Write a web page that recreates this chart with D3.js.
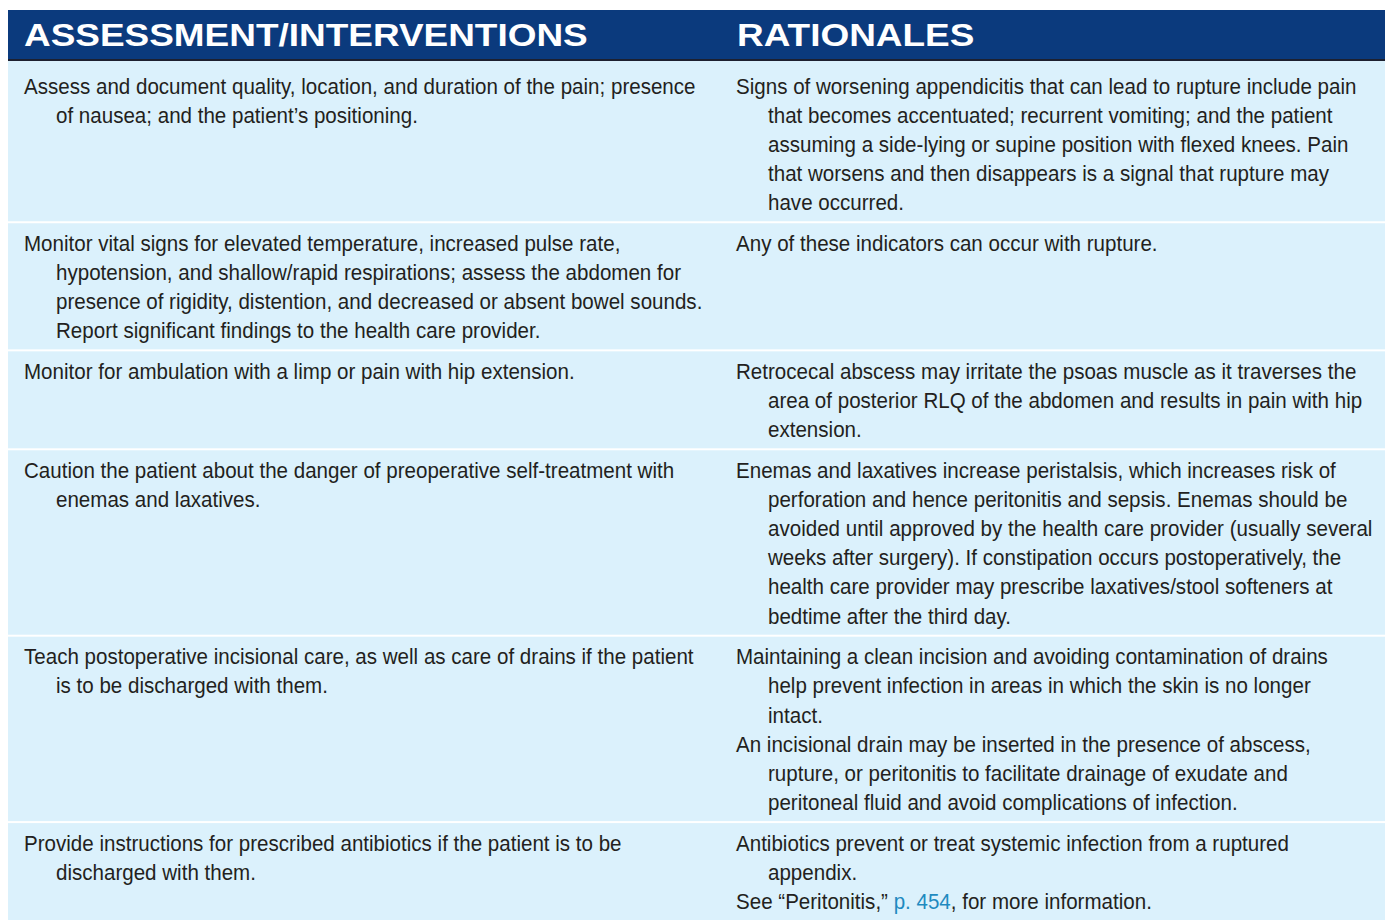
<!DOCTYPE html>
<html>
<head>
<meta charset="utf-8">
<script src="https://cdn.jsdelivr.net/npm/d3@7/dist/d3.min.js"></script>
<style>
  html, body { margin: 0; padding: 0; background: #ffffff; }
  svg { display: block; }
</style>
</head>
<body>
<div id="chart"></div>
<script>
// ---- Data ----
const columns = ["ASSESSMENT/INTERVENTIONS", "RATIONALES"];

const interventions = [
  [["Assess and document quality, location, and duration of the pain; presence",
    "of nausea; and the patient’s positioning."]],
  [["Monitor vital signs for elevated temperature, increased pulse rate,",
    "hypotension, and shallow/rapid respirations; assess the abdomen for",
    "presence of rigidity, distention, and decreased or absent bowel sounds.",
    "Report significant findings to the health care provider."]],
  [["Monitor for ambulation with a limp or pain with hip extension."]],
  [["Caution the patient about the danger of preoperative self-treatment with",
    "enemas and laxatives."]],
  [["Teach postoperative incisional care, as well as care of drains if the patient",
    "is to be discharged with them."]],
  [["Provide instructions for prescribed antibiotics if the patient is to be",
    "discharged with them."]]
];

const rationales = [
  [["Signs of worsening appendicitis that can lead to rupture include pain",
    "that becomes accentuated; recurrent vomiting; and the patient",
    "assuming a side-lying or supine position with flexed knees. Pain",
    "that worsens and then disappears is a signal that rupture may",
    "have occurred."]],
  [["Any of these indicators can occur with rupture."]],
  [["Retrocecal abscess may irritate the psoas muscle as it traverses the",
    "area of posterior RLQ of the abdomen and results in pain with hip",
    "extension."]],
  [["Enemas and laxatives increase peristalsis, which increases risk of",
    "perforation and hence peritonitis and sepsis. Enemas should be",
    "avoided until approved by the health care provider (usually several",
    "weeks after surgery). If constipation occurs postoperatively, the",
    "health care provider may prescribe laxatives/stool softeners at",
    "bedtime after the third day."]],
  [["Maintaining a clean incision and avoiding contamination of drains",
    "help prevent infection in areas in which the skin is no longer",
    "intact."],
   ["An incisional drain may be inserted in the presence of abscess,",
    "rupture, or peritonitis to facilitate drainage of exudate and",
    "peritoneal fluid and avoid complications of infection."]],
  [["Antibiotics prevent or treat systemic infection from a ruptured",
    "appendix."],
   ["See “Peritonitis,” {p. 454}, for more information."]]
];

// ---- Layout ----
const W = 1385, H = 920;
const tableLeft = 8, tableRight = 1385;
const headerTop = 10, headerBottom = 59, headerRule = 2;
const lineH = 29.15, rowPad = 9.5, sepH = 2, firstExtra = 5;
const baseOff = 27.5;
const hdrSx = 1.155;  // header horizontal stretch
const bodySx = 0.935; // body horizontal squeeze (condensed look)

const colX = d3.scaleOrdinal().domain(columns).range([24, 736]);
const indent = 32;

const svg = d3.select("#chart").append("svg")
  .attr("width", W).attr("height", H);

const rows = interventions.map((iv, i) => {
  const ra = rationales[i];
  const nL = d3.sum(iv, p => p.length);
  const nR = d3.sum(ra, p => p.length);
  return { iv, ra, n: Math.max(nL, nR) };
});
let y = headerBottom + headerRule;
rows.forEach((r, i) => {
  r.top = y;
  r.extra = i === 0 ? firstExtra : 0;
  r.h = r.extra + rowPad + lineH * r.n;
  y += r.h + sepH;
});

// header
svg.append("rect")
  .attr("x", tableLeft).attr("y", headerTop)
  .attr("width", tableRight - tableLeft).attr("height", headerBottom - headerTop)
  .attr("fill", "#0b3a7d");
svg.append("rect")
  .attr("x", tableLeft).attr("y", headerBottom)
  .attr("width", tableRight - tableLeft).attr("height", headerRule)
  .attr("fill", "#1d2030");

svg.selectAll("text.hdr").data(columns).enter().append("text")
  .attr("class", "hdr")
  .attr("transform", (d, i) => `translate(${colX(d) + (i ? 1 : 0)},${46}) scale(${hdrSx},1)`)
  .attr("font-family", "'Liberation Sans', Arial, sans-serif")
  .attr("font-weight", "bold")
  .attr("font-size", 32)
  .attr("fill", "#ffffff")
  .text(d => d);

// row backgrounds
svg.selectAll("rect.row").data(rows).enter().append("rect")
  .attr("class", "row")
  .attr("x", tableLeft).attr("y", d => d.top)
  .attr("width", tableRight - tableLeft).attr("height", d => d.h)
  .attr("fill", "#dbf1fc");

function drawCell(g, paragraphs, x0, top) {
  let li = 0;
  paragraphs.forEach(par => {
    par.forEach((line, j) => {
      const x = x0 + (j === 0 ? 0 : indent);
      const t = g.append("text")
        .attr("transform", `translate(${x},${top + baseOff + li * lineH}) scale(${bodySx},1)`)
        .attr("font-family", "'Liberation Sans', Arial, sans-serif")
        .attr("font-size", 22)
        .attr("fill", "#231f20");
      const parts = line.split(/(\{[^}]*\})/).filter(s => s.length);
      parts.forEach(p => {
        if (p.startsWith("{")) {
          t.append("tspan").attr("fill", "#1f8ac0").text(p.slice(1, -1));
        } else {
          t.append("tspan").text(p);
        }
      });
      li++;
    });
  });
}

rows.forEach(r => {
  const g = svg.append("g");
  drawCell(g, r.iv, colX(columns[0]), r.top + r.extra);
  drawCell(g, r.ra, colX(columns[1]), r.top + r.extra);
});
</script>
</body>
</html>
